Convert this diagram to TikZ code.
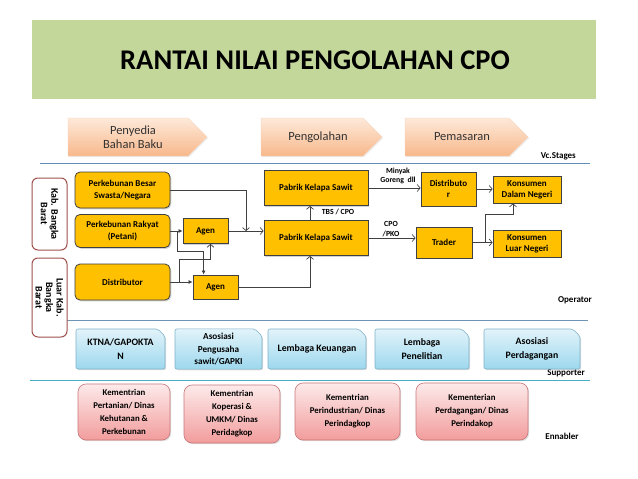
\documentclass[tikz,border=0pt]{standalone}
\usepackage{fontspec}
\setmainfont{Carlito}
\usetikzlibrary{arrows.meta,shapes.misc,shadows,calc}
\definecolor{titlegreen}{HTML}{C4D79B}
\definecolor{ybox}{HTML}{FFC000}
\definecolor{stagetop}{HTML}{FDE9D9}
\definecolor{stagebot}{HTML}{F8B88B}
\definecolor{bluetop}{HTML}{E2F3FA}
\definecolor{bluebot}{HTML}{9DD8EE}
\definecolor{blueline}{HTML}{7FB2C9}
\definecolor{pinktop}{HTML}{FDEAEA}
\definecolor{pinkbot}{HTML}{F29C9C}
\definecolor{pinkline}{HTML}{C9787A}
\definecolor{regionred}{HTML}{A0504D}
\definecolor{sepA}{HTML}{5F8DB8}
\definecolor{sepB}{HTML}{6E95B5}
\definecolor{sepC}{HTML}{4BACC6}
\begin{document}
\begin{tikzpicture}[x=1pt,y=-1pt,
  boxfont/.style={font=\fontsize{9}{12.5}\selectfont\bfseries},
  yb/.style={draw=black!75, fill=ybox, line width=0.8pt, align=center, boxfont, inner sep=1pt,
    drop shadow={opacity=0.35, shadow xshift=1.3pt, shadow yshift=-1.3pt}},
  ybr/.style={yb, rounded corners=5pt},
  tight/.style={font=\fontsize{9}{11}\selectfont\bfseries},
  stageshape/.style={top color=stagetop, bottom color=stagebot, draw=stagebot!60, line width=0.3pt,
    drop shadow={opacity=0.15, shadow xshift=1pt, shadow yshift=-1pt}},
  stagetext/.style={align=center, inner sep=0pt, font=\fontsize{12.5}{14}\selectfont, text=black!80},
  region/.style={draw=regionred, line width=1pt, fill=white, rounded corners=6pt},
  regiontext/.style={align=center, inner sep=0pt, font=\fontsize{10}{10.5}\selectfont\bfseries},
  sup/.style={chamfered rectangle, chamfered rectangle corners=north east, chamfered rectangle xsep=4pt,
    rounded corners=2pt, top color=bluetop, bottom color=bluebot, draw=blueline, line width=0.6pt,
    align=center, inner sep=1pt, font=\fontsize{9.8}{14}\selectfont\bfseries,
    drop shadow={opacity=0.25, shadow xshift=1.2pt, shadow yshift=-1.2pt}},
  enb/.style={rounded corners=8pt, top color=pinktop, bottom color=pinkbot, draw=pinkline, line width=0.6pt,
    align=center, inner sep=1pt, font=\fontsize{8.8}{13}\selectfont\bfseries,
    drop shadow={opacity=0.25, shadow xshift=1.2pt, shadow yshift=-1.2pt}},
  lbl/.style={font=\fontsize{9}{10}\selectfont\bfseries, inner sep=0pt},
  small/.style={font=\fontsize{7.8}{9.5}\selectfont\bfseries, align=center, inner sep=0pt},
  conn/.style={draw=black!75, line width=0.7pt, -{Straight Barb[length=3pt,width=7pt]}},
  fconn/.style={draw=black!75, line width=0.7pt, -{Latex[length=4pt,width=4pt]}}
]
\useasboundingbox (0,0) rectangle (638,479);
\fill[white] (0,0) rectangle (638,479);

% title band
\fill[titlegreen] (32,20) rectangle (596,99);
\node[font=\fontsize{28.5}{32}\selectfont\bfseries, inner sep=0pt] (title) at (315,60) {RANTAI NILAI PENGOLAHAN CPO};

% stages
\path[stageshape] (68,118) -- (188,118) -- (207,137) -- (188,156) -- (68,156) -- cycle;
\node[stagetext] (st1) at (133,137) {Penyedia\\Bahan Baku};
\path[stageshape] (261,118) -- (363,118) -- (382,137) -- (363,156) -- (261,156) -- cycle;
\node[stagetext] (st2) at (318,137) {Pengolahan};
\path[stageshape] (405,118) -- (509,118) -- (528,137) -- (509,156) -- (405,156) -- cycle;
\node[stagetext] (st3) at (462,137) {Pemasaran};

% separators
\draw[sepA, line width=0.8pt] (40,163) -- (590,163);
\draw[sepB, line width=0.8pt] (32,320) -- (588,320);
\draw[sepC, line width=0.8pt] (30,380) -- (590,380);

% section labels
\node[lbl, anchor=east] (lvc) at (576,156) {Vc.Stages};
\node[lbl] (lop) at (575,300) {Operator};
\node[lbl, anchor=east] (lsu) at (585,373) {Supporter};
\node[lbl] (len) at (562,436) {Ennabler};

% regions
\node[region, minimum width=35pt, minimum height=72pt] (kbb) at (49.5,214) {};
\node[regiontext, rotate=-90] (kbbt) at (kbb.center) {Kab. Bangka\\Barat};
\node[region, minimum width=35pt, minimum height=79pt] (lkbb) at (49.5,297.5) {};
\node[regiontext, rotate=-90] (lkbbt) at (lkbb.center) {Luar Kab.\\Bangka\\Barat};

% operator boxes
\node[ybr, minimum width=95pt, minimum height=36pt] (pbs) at (122.5,190) {Perkebunan Besar\\Swasta/Negara};
\node[ybr, minimum width=95pt, minimum height=33pt] (pr) at (122.5,231) {Perkebunan Rakyat\\(Petani)};
\node[ybr, minimum width=95pt, minimum height=36pt] (dist) at (122.5,282) {Distributor};
\node[yb, minimum width=45pt, minimum height=25pt] (agen1) at (205.5,231) {Agen};
\node[yb, minimum width=45pt, minimum height=24pt] (agen2) at (215.5,287) {Agen};
\node[yb, minimum width=104pt, minimum height=35pt] (pks1) at (316,188) {Pabrik Kelapa Sawit};
\node[yb, minimum width=104pt, minimum height=35pt] (pks2) at (316,238) {Pabrik Kelapa Sawit};
\node[yb, tight, minimum width=55pt, minimum height=34pt] (distr) at (448.5,189) {Distributo\\r};
\node[yb, minimum width=56pt, minimum height=31pt] (trader) at (444,242.5) {Trader};
\node[yb, tight, minimum width=68pt, minimum height=27pt] (kdn) at (527,189.5) {Konsumen\\Dalam Negeri};
\node[yb, tight, minimum width=68pt, minimum height=27pt] (kln) at (527,243.5) {Konsumen\\Luar Negeri};

% connector labels
\node[small] (lmg) at (398,176) {Minyak\\Goreng\ \ dll};
\node[small] (ltbs) at (338,212) {TBS / CPO};
\node[small] (lcpo) at (391,229) {CPO\\/PKO};

% connectors
\coordinate (j1) at ($(agen1.east)!0.5!(agen1.east -| pks2.west)$);
\draw[conn] (agen1.east) -- (agen1.east -| pks2.west);
\draw[conn] (pbs.east) -| (j1);
\draw[fconn] (pr.east) -- (agen1.west);
\coordinate (b1) at ($(pr.east)+(7,0)$);
\draw[fconn] (b1) -- ++(0,20) -| ($(agen2.north west)+(11,0)$);
\draw[fconn] (dist.east) -- (dist.east -| agen2.west);
\coordinate (b2) at ($(dist.east)+(9,0)$);
\draw[conn] (b2) -- ++(0,-23) -| ($(agen1.south)+(5,0)$);
\draw[conn] (agen2.east) -| ($(pks2.south)+(-6,0)$);
\draw[conn] ($(pks2.north)+(-6,0)$) -- ($(pks1.south)+(-6,0)$);
\draw[conn] (pks1.east) -- (pks1.east -| distr.west);
\draw[conn] (pks2.east) -- (pks2.east -| trader.west);
\draw[conn] (distr.east) -- (distr.east -| kdn.west);
\draw[conn] (trader.east) -- (trader.east -| kln.west);
\coordinate (b3) at ($(trader.east)+(13,0)$);
\draw[conn] (b3) -- ++(0,-28) -| ($(kdn.south)+(-14,0)$);

% supporter
\node[sup, minimum width=89pt, minimum height=40pt] (s1) at (120.5,349) {KTNA/GAPOKTA\\N};
\node[sup, minimum width=87pt, minimum height=40pt, font=\fontsize{9.2}{12.5}\selectfont\bfseries] (s2) at (218.5,349) {Asosiasi\\Pengusaha\\sawit/GAPKI};
\node[sup, minimum width=98pt, minimum height=40pt] (s3) at (317,349) {Lembaga Keuangan};
\node[sup, minimum width=94pt, minimum height=40pt] (s4) at (422,349) {Lembaga\\Penelitian};
\node[sup, minimum width=96pt, minimum height=40pt] (s5) at (532,349) {Asosiasi\\Perdagangan};

% enabler
\node[enb, minimum width=92pt, minimum height=56pt] (e1) at (124,412) {Kementrian\\Pertanian/ Dinas\\Kehutanan \&\\Perkebunan};
\node[enb, minimum width=96pt, minimum height=58pt] (e2) at (232,414) {Kementrian\\Koperasi \&\\UMKM/ Dinas\\Peridagkop};
\node[enb, minimum width=105pt, minimum height=57pt] (e3) at (347.5,411.5) {Kementrian\\Perindustrian/ Dinas\\Perindagkop};
\node[enb, minimum width=112pt, minimum height=57pt] (e4) at (472,411.5) {Kementerian\\Perdagangan/ Dinas\\Perindakop};
\end{tikzpicture}
\end{document}
